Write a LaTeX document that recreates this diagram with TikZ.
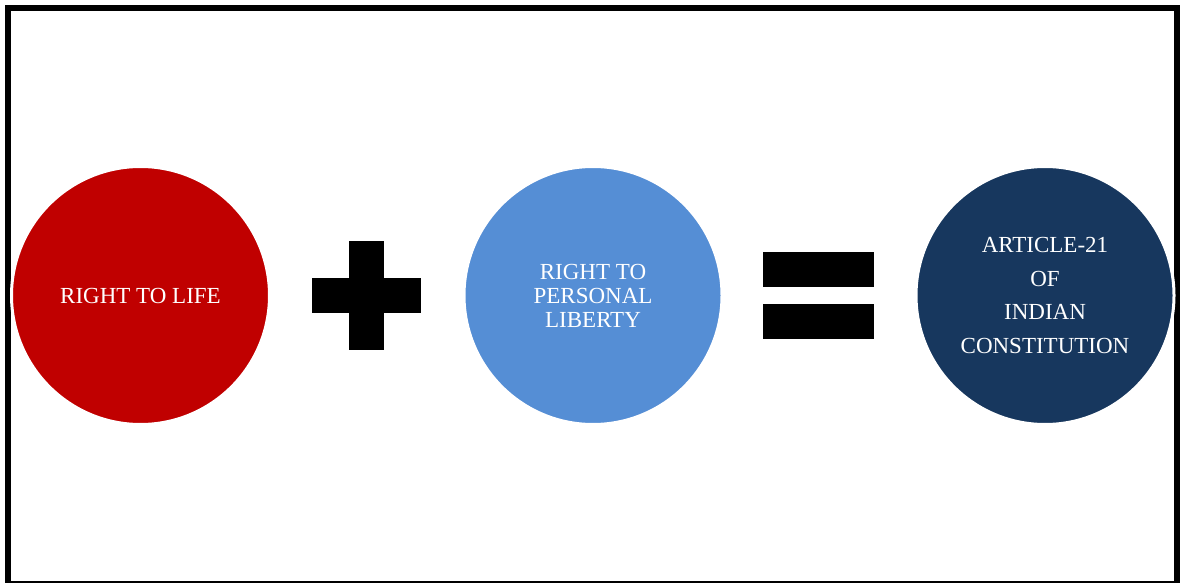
\documentclass[tikz,border=0pt]{standalone}
\usepackage{fontspec}
\setmainfont{Liberation Serif}
\definecolor{cred}{HTML}{C00000}
\definecolor{cblue}{HTML}{558ED5}
\definecolor{cnavy}{HTML}{17375E}
\begin{document}
\begin{tikzpicture}[x=1pt,y=-1pt,
  ball/.style={circle, inner sep=0pt, minimum size=258pt, draw=white, line width=3pt, text=white, align=center},
  bar/.style={rectangle, fill=black, inner sep=0pt},
  lbl/.style={font=\fontsize{23}{25}\selectfont}]
\useasboundingbox (0,0) rectangle (1181,583);
\fill[white] (0,0) rectangle (1181,583);
\draw[line width=6pt] (8,8) rectangle (1177,584);
\node[ball, fill=cred, lbl] (life) at (140.5,295.5) {RIGHT TO LIFE};
\node[ball, fill=cblue, lbl] (liberty) at (593,295.5) {RIGHT TO\\[-1pt]PERSONAL\\[-1pt]LIBERTY};
\node[ball, fill=cnavy, font=\fontsize{23}{33.5}\selectfont] (article) at (1045,295.5) {ARTICLE-21\\OF\\INDIAN\\CONSTITUTION};
\node[bar, minimum width=35pt, minimum height=109pt] (plusv) at (366.5,295.5) {};
\node[bar, minimum width=109pt, minimum height=35pt] (plush) at (366.5,295.5) {};
\node[bar, minimum width=111pt, minimum height=35pt] (eqtop) at (818.5,269.5) {};
\node[bar, minimum width=111pt, minimum height=35pt] (eqbot) at (818.5,321.5) {};
\end{tikzpicture}
\end{document}
